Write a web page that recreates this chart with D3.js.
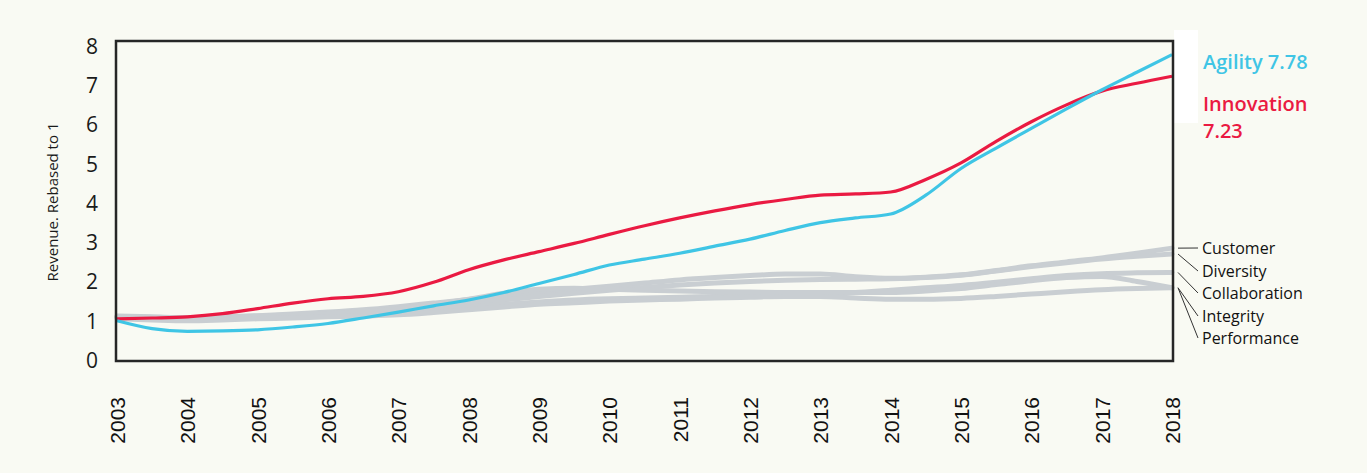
<!DOCTYPE html>
<html>
<head>
<meta charset="utf-8">
<script src="https://cdn.jsdelivr.net/npm/d3@7"></script>
<style>
  body { margin: 0; background: #f9faf3; }
  svg { display: block; }
</style>
</head>
<body>
<script>
const width = 1367;
const height = 473;

// half-year sample points
const years = d3.range(2003, 2018.01, 0.5);
const yearTicks = d3.range(2003, 2019);
const yTicks = [0, 1, 2, 3, 4, 5, 6, 7, 8];

const customer = [1.12, 1.1, 1.08, 1.1, 1.13, 1.17, 1.22, 1.28, 1.36, 1.45, 1.54, 1.63, 1.72, 1.8, 1.88, 1.96, 2.04, 2.1, 2.15, 2.19, 2.19, 2.12, 2.08, 2.11, 2.17, 2.28, 2.4, 2.5, 2.6, 2.72, 2.85];
const diversity = [1.1, 1.08, 1.06, 1.08, 1.1, 1.14, 1.18, 1.23, 1.29, 1.36, 1.44, 1.53, 1.62, 1.7, 1.78, 1.85, 1.91, 1.96, 2.0, 2.03, 2.05, 2.06, 2.07, 2.1, 2.16, 2.27, 2.38, 2.48, 2.57, 2.64, 2.7];
const collaboration = [1.08, 1.06, 1.05, 1.07, 1.1, 1.12, 1.15, 1.18, 1.22, 1.28, 1.35, 1.42, 1.48, 1.53, 1.56, 1.58, 1.6, 1.62, 1.64, 1.66, 1.68, 1.72, 1.78, 1.84, 1.9, 1.98, 2.07, 2.15, 2.2, 2.22, 2.23];
const integrity = [1.1, 1.08, 1.07, 1.09, 1.12, 1.15, 1.18, 1.23, 1.3, 1.42, 1.55, 1.7, 1.8, 1.83, 1.8, 1.78, 1.76, 1.74, 1.73, 1.72, 1.72, 1.72, 1.72, 1.76, 1.82, 1.92, 2.02, 2.1, 2.13, 2.0, 1.84];
const performance = [1.05, 1.02, 1.0, 1.02, 1.05, 1.07, 1.1, 1.12, 1.15, 1.21, 1.28, 1.35, 1.42, 1.46, 1.5, 1.53, 1.55, 1.58, 1.6, 1.62, 1.62, 1.58, 1.55, 1.55, 1.57, 1.62, 1.68, 1.74, 1.79, 1.82, 1.84];
const innovation = [1.05, 1.07, 1.1, 1.18, 1.31, 1.45, 1.56, 1.62, 1.74, 1.98, 2.3, 2.55, 2.76, 2.97, 3.2, 3.42, 3.62, 3.8, 3.96, 4.09, 4.2, 4.23, 4.28, 4.6, 5.02, 5.57, 6.07, 6.5, 6.85, 7.05, 7.23];
const agility = [1.0, 0.8, 0.73, 0.74, 0.77, 0.84, 0.93, 1.07, 1.22, 1.38, 1.53, 1.72, 1.95, 2.18, 2.42, 2.57, 2.72, 2.9, 3.08, 3.3, 3.5, 3.62, 3.72, 4.2, 4.88, 5.4, 5.9, 6.4, 6.88, 7.33, 7.78];

const grayNames = ["Customer", "Diversity", "Collaboration", "Integrity", "Performance"];
const grayValues = [customer, diversity, collaboration, integrity, performance];

let svg = d3.select("body").append("svg")
    .attr("width", width)
    .attr("height", height);

svg.append("rect")
    .attr("width", width)
    .attr("height", height)
    .attr("fill", "#f9faf3");

let xScale = d3.scaleLinear()
    .domain([2003, 2018])
    .range([117, 1172]);

let yScale = d3.scaleLinear()
    .domain([0, 8])
    .range([360, 46]);

let line = d3.line()
    .x(d => xScale(d[0]))
    .y(d => yScale(d[1]))
    .curve(d3.curveMonotoneX);

const pairs = vals => years.map((yr, i) => [yr, vals[i]]);

// white patch behind the highlighted labels
svg.append("rect")
    .attr("x", 1174)
    .attr("y", 30)
    .attr("width", 24)
    .attr("height", 93)
    .attr("fill", "#ffffff");

// gray lines
svg.append("g")
    .selectAll("path")
    .data(grayValues)
    .join("path")
    .attr("d", d => line(pairs(d)))
    .attr("fill", "none")
    .attr("stroke", "#c9ced2")
    .attr("stroke-width", 5)
    .attr("stroke-linecap", "round");

svg.append("path")
    .attr("d", line(pairs(innovation)))
    .attr("fill", "none")
    .attr("stroke", "#ea1a42")
    .attr("stroke-width", 3.2);

svg.append("path")
    .attr("d", line(pairs(agility)))
    .attr("fill", "none")
    .attr("stroke", "#3fc5e5")
    .attr("stroke-width", 3.2);

// frame
svg.append("rect")
    .attr("x", 116)
    .attr("y", 41)
    .attr("width", 1173 - 116)
    .attr("height", 361 - 41)
    .attr("fill", "none")
    .attr("stroke", "#262626")
    .attr("stroke-width", 2.5);

// y axis
let yAxis = svg.append("g")
    .attr("transform", "translate(98,0)")
    .call(d3.axisLeft(yScale).tickValues(yTicks).tickSize(0).tickPadding(0));
yAxis.select(".domain").remove();
yAxis.selectAll("text")
    .attr("font-family", "Open Sans, sans-serif")
    .attr("font-size", "21px")
    .attr("fill", "#1a1a1a")
    .attr("dy", "0.35em");

svg.append("text")
    .attr("transform", "translate(58,202) rotate(-90)")
    .attr("text-anchor", "middle")
    .attr("font-family", "Open Sans, sans-serif")
    .attr("font-size", "15px")
    .attr("fill", "#1a1a1a")
    .text("Revenue. Rebased to 1");

// x axis
let xAxis = svg.append("g")
    .attr("transform", "translate(0,397)")
    .call(d3.axisBottom(xScale).tickValues(yearTicks).tickFormat(d3.format("d")).tickSize(0).tickPadding(0));
xAxis.select(".domain").remove();
xAxis.selectAll("text")
    .attr("font-family", "Liberation Sans, Arial, sans-serif")
    .attr("font-size", "21px")
    .attr("fill", "#111")
    .attr("text-anchor", "end")
    .attr("dy", "0.35em")
    .attr("transform", "rotate(-90)");

// highlighted labels
svg.append("text")
    .attr("x", 1203).attr("y", 69)
    .attr("font-family", "Open Sans, sans-serif")
    .attr("font-weight", 600)
    .attr("font-size", "20px")
    .attr("fill", "#3fc5e5")
    .text("Agility " + agility[agility.length - 1].toFixed(2));

svg.append("text")
    .attr("x", 1203).attr("y", 111)
    .attr("font-family", "Open Sans, sans-serif")
    .attr("font-weight", 600)
    .attr("font-size", "20px")
    .attr("fill", "#ea1a42")
    .text("Innovation");

svg.append("text")
    .attr("x", 1203).attr("y", 138)
    .attr("font-family", "Open Sans, sans-serif")
    .attr("font-weight", 600)
    .attr("font-size", "20px")
    .attr("fill", "#ea1a42")
    .text(innovation[innovation.length - 1].toFixed(2));

// gray labels with leader lines
const labelY = [248, 271, 293, 316, 338];
let leaders = svg.append("g");
grayNames.forEach((name, i) => {
    let endVal = grayValues[i][grayValues[i].length - 1];
    let y0 = yScale(endVal);
    leaders.append("line")
        .attr("x1", 1178).attr("y1", y0)
        .attr("x2", 1198).attr("y2", labelY[i])
        .attr("stroke", "#333")
        .attr("stroke-width", 1);
    leaders.append("text")
        .attr("x", 1202).attr("y", labelY[i])
        .attr("dy", "0.35em")
        .attr("font-family", "Open Sans, sans-serif")
        .attr("font-size", "16px")
        .attr("fill", "#111")
        .text(name);
});
</script>
</body>
</html>
